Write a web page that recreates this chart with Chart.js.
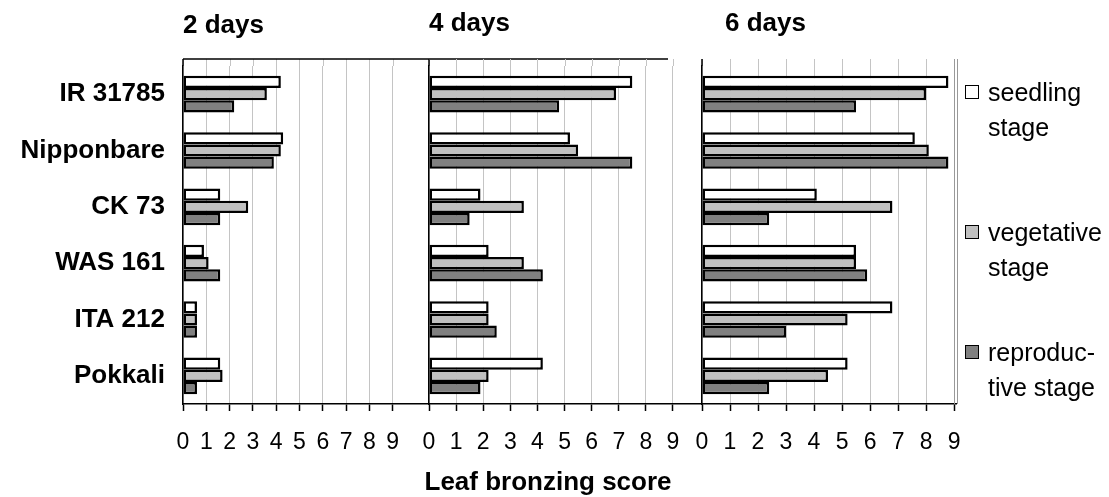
<!DOCTYPE html>
<html>
<head>
<meta charset="utf-8">
<title>Leaf bronzing score</title>
<script src="https://cdn.jsdelivr.net/npm/chart.js@4.4.0/dist/chart.umd.min.js"></script>
<style>
    body { margin: 0; background: #fff; }
    #wrap { position: relative; width: 1109px; height: 497px; font-family: "Liberation Sans", Arial, sans-serif; color: #000; }
    #wrap canvas { position: absolute; left: 0; top: 0; }
    .txt { position: absolute; white-space: nowrap; line-height: 1; }
    .bold { font-weight: bold; font-size: 26px; }
    .leg-item { position: absolute; left: 965px; font-size: 25px; line-height: 35px; }
    .leg-box { position: absolute; left: 0; top: 10px; width: 12px; height: 12px; border: 1.5px solid #000; }
    .leg-text { position: absolute; left: 23px; top: 0; white-space: nowrap; }
</style>
</head>
<body>
<div id="wrap">
    <canvas id="panel-0" width="1109" height="497"></canvas>
    <canvas id="panel-1" width="1109" height="497"></canvas>
    <canvas id="panel-2" width="1109" height="497"></canvas>
</div>
<script>
const varieties = ['IR 31785', 'Nipponbare', 'CK 73', 'WAS 161', 'ITA 212', 'Pokkali'];
const panelTitles = ['2 days', '4 days', '6 days'];
const stageNames = ['seedling stage', 'vegetative stage', 'reproductive stage'];
const legendLines = [['seedling', 'stage'], ['vegetative', 'stage'], ['reproduc-', 'tive stage']];
const stageColors = ['#ffffff', '#c0c0c0', '#808080'];
const scoreTicks = [0, 1, 2, 3, 4, 5, 6, 7, 8, 9];
const axisTitle = 'Leaf bronzing score';

// 2 days
const seedling2 = [4.2, 4.3, 1.6, 0.9, 0.6, 1.6];
const vegetative2 = [3.6, 4.2, 2.8, 1.1, 0.6, 1.7];
const reproductive2 = [2.2, 3.9, 1.6, 1.6, 0.6, 0.6];
// 4 days
const seedling4 = [7.5, 5.2, 1.9, 2.2, 2.2, 4.2];
const vegetative4 = [6.9, 5.5, 3.5, 3.5, 2.2, 2.2];
const reproductive4 = [4.8, 7.5, 1.5, 4.2, 2.5, 1.9];
// 6 days
const seedling6 = [8.8, 7.6, 4.1, 5.5, 6.8, 5.2];
const vegetative6 = [8.0, 8.1, 6.8, 5.5, 5.2, 4.5];
const reproductive6 = [5.5, 8.8, 2.4, 5.9, 3.0, 2.4];

const panelData = [
    [seedling2, vegetative2, reproductive2],
    [seedling4, vegetative4, reproductive4],
    [seedling6, vegetative6, reproductive6]
];

// placement of each panel on the page (pixels)
const W = 1109, H = 497, plotTop = 66, plotBottom = 404, frameTop = 59;
const panelBox = [
    { left: 0, axisWidth: 183, right: 429, max: 10.56, titleX: 183, titleY: 11, topLine: [183, 668] },
    { left: 429, axisWidth: 0, right: 702, max: 10.07, titleX: 429, titleY: 9 },
    { left: 702, axisWidth: 0, right: 956, max: 9.07, titleX: 725, titleY: 9, rightLine: true }
];

// extends grid up to the frame, draws the frame lines
const panelDecor = {
    id: 'panelDecor',
    afterDraw(chart, args, opts) {
        const { ctx, chartArea, scales } = chart;
        ctx.save();
        ctx.strokeStyle = '#c4c4c4';
        ctx.lineWidth = 1;
        scales.x.ticks.forEach(t => {
            const x = Math.round(scales.x.getPixelForValue(t.value)) + 0.5;
            ctx.beginPath();
            ctx.moveTo(x, frameTop);
            ctx.lineTo(x, chartArea.top);
            ctx.stroke();
        });
        ctx.strokeStyle = '#000';
        ctx.lineWidth = 1.5;
        ctx.beginPath();
        ctx.moveTo(chartArea.left, frameTop);
        ctx.lineTo(chartArea.left, chartArea.top);
        ctx.stroke();
        if (opts.topLine) {
            ctx.beginPath();
            ctx.moveTo(opts.topLine[0], frameTop);
            ctx.lineTo(opts.topLine[1], frameTop);
            ctx.stroke();
        }
        if (opts.rightLine) {
            ctx.strokeStyle = '#999';
            ctx.lineWidth = 1;
            [chartArea.right - 1.5, chartArea.right + 1.5].forEach(x => {
                ctx.beginPath();
                ctx.moveTo(x, frameTop);
                ctx.lineTo(x, chartArea.bottom);
                ctx.stroke();
            });
        }
        ctx.restore();
    }
};

const makePanel = (idx) => {
    const box = panelBox[idx];
    const showLabels = idx === 0;

    new Chart(document.getElementById('panel-' + idx), {
        type: 'bar',
        data: {
            labels: varieties,
            datasets: panelData[idx].map((values, i) => ({
                label: stageNames[i],
                data: values,
                backgroundColor: stageColors[i],
                borderColor: '#000',
                borderWidth: 2.5,
                borderSkipped: false,
                categoryPercentage: 0.65,
                barPercentage: 1.0
            }))
        },
        options: {
            indexAxis: 'y',
            responsive: false,
            animation: false,
            devicePixelRatio: 1,
            layout: {
                padding: { left: box.left, right: W - box.right, top: plotTop, bottom: 0 }
            },
            scales: {
                x: {
                    min: 0,
                    max: box.max,
                    afterBuildTicks: (scale) => {
                        scale.ticks = scoreTicks.map(v => ({ value: v }));
                    },
                    afterFit: (scale) => { scale.height = H - plotBottom; },
                    ticks: {
                        color: '#000',
                        font: { family: '"Liberation Sans", Arial, sans-serif', size: 23 },
                        padding: 18,
                        maxRotation: 0,
                        autoSkip: false
                    },
                    grid: {
                        color: '#c4c4c4',
                        lineWidth: 1,
                        tickColor: '#000',
                        tickLength: 7,
                        tickWidth: 1.5
                    },
                    border: { color: '#000', width: 1.5 }
                },
                y: {
                    afterFit: (scale) => { scale.width = box.axisWidth; },
                    ticks: {
                        display: showLabels,
                        color: '#000',
                        font: { family: '"Liberation Sans", Arial, sans-serif', size: 26, weight: 'bold' },
                        padding: 18
                    },
                    grid: { display: false, drawTicks: false },
                    border: { color: '#000', width: 1.5 }
                }
            },
            plugins: {
                legend: { display: false },
                tooltip: { enabled: false },
                panelDecor: { topLine: box.topLine, rightLine: box.rightLine }
            }
        },
        plugins: [panelDecor]
    });
};

const wrap = document.getElementById('wrap');
const addText = (text, cls, left, top) => {
    const el = document.createElement('div');
    el.className = 'txt ' + cls;
    el.textContent = text;
    el.style.left = left + 'px';
    el.style.top = top + 'px';
    wrap.appendChild(el);
    return el;
};

panelBox.forEach((box, i) => {
    makePanel(i);
    addText(panelTitles[i], 'bold', box.titleX, box.titleY);
});

const title = addText(axisTitle, 'bold', 0, 468);
title.style.left = (548 - title.offsetWidth / 2) + 'px';

// legend
const legendTops = [75, 215, 335];
legendLines.forEach((lines, i) => {
    const item = document.createElement('div');
    item.className = 'leg-item';
    item.style.top = legendTops[i] + 'px';
    item.innerHTML = `<div class="leg-box" style="background:${stageColors[i]}"></div>
        <div class="leg-text">${lines.join('<br>')}</div>`;
    wrap.appendChild(item);
});
</script>
</body>
</html>
